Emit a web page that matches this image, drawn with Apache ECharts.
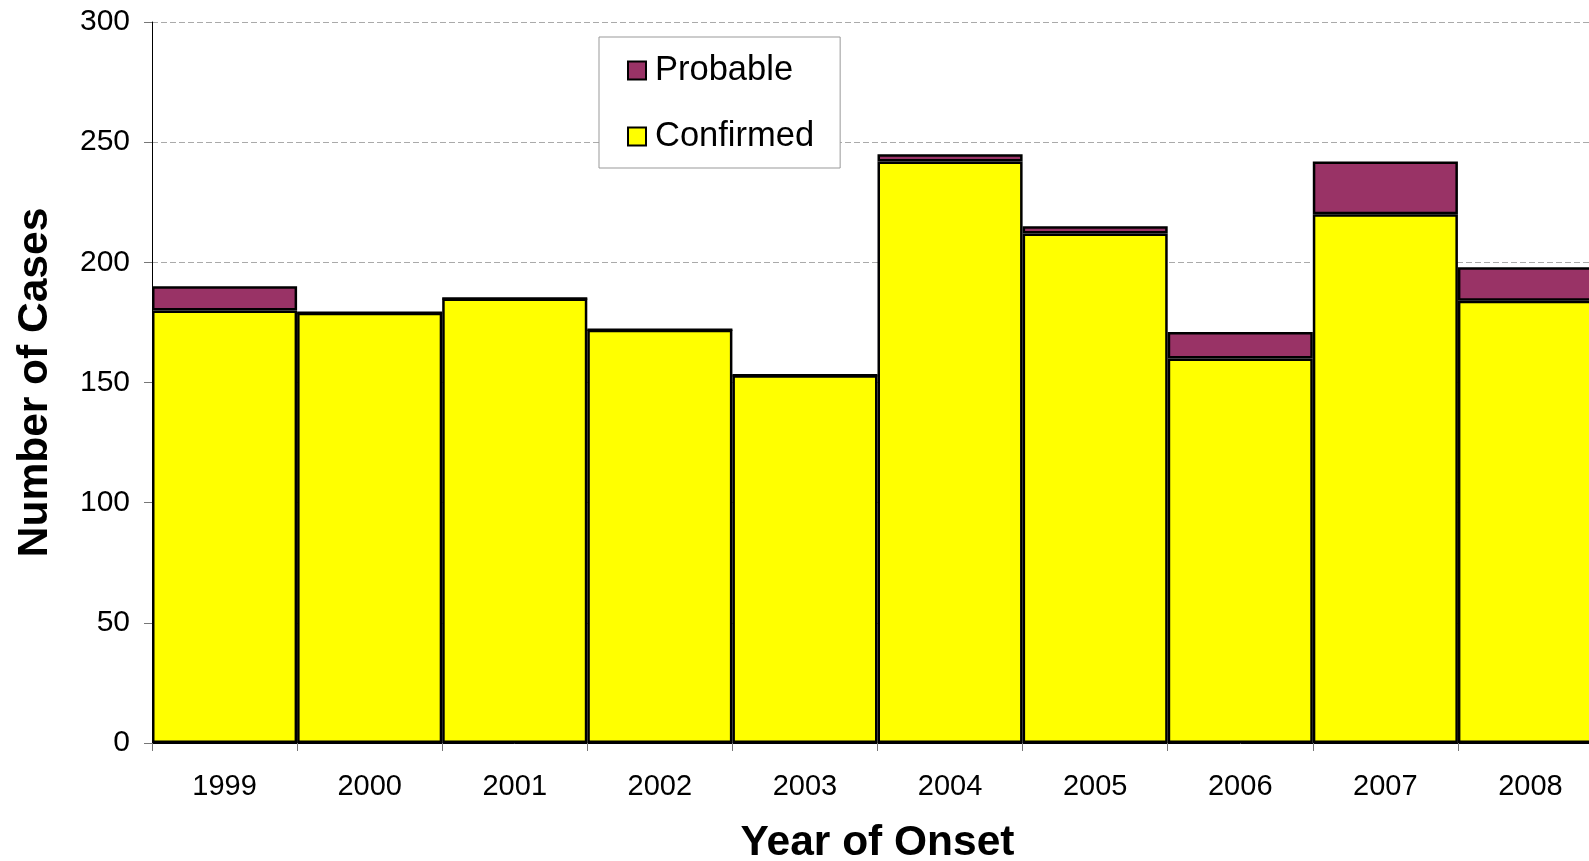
<!DOCTYPE html>
<html>
<head>
<meta charset="utf-8">
<script src="https://cdn.jsdelivr.net/npm/echarts@6/dist/echarts.min.js"></script>
<style>
  html, body { margin: 0; padding: 0; background: #fff; overflow: hidden; }
  #wrap { position: relative; width: 1589px; height: 861px; overflow: hidden; }
  #chart { position: absolute; left: 0; top: 0; width: 1603px; height: 861px; }
</style>
</head>
<body>
<div id="wrap"><div id="chart"></div></div>
<script>
// years of onset
var years = ['1999', '2000', '2001', '2002', '2003', '2004', '2005', '2006', '2007', '2008'];
// cases per year
var confirmed = [180, 179, 185, 172, 153, 242, 212, 160, 220, 184];
var probable = [10, 0, 0, 0, 0, 3, 3, 11, 22, 14];

var chart = echarts.init(document.getElementById('chart'));
var font = '"Liberation Sans", Arial, sans-serif';

// plot runs a little past the right edge of the window, like the original
var option = {
  backgroundColor: '#fff',
  animation: false,
  textStyle: { fontFamily: font, color: '#000' },
  grid: { left: 152, right: 0, top: 22, bottom: 118, containLabel: false, outerBoundsMode: 'none' },
  legend: {
    orient: 'vertical',
    left: 599,
    top: 37,
    data: ['Probable', 'Confirmed'],
    icon: 'rect',
    itemWidth: 18,
    itemHeight: 18,
    itemGap: 31,
    padding: [16, 26, 14, 28],
    borderColor: '#999',
    borderWidth: 1,
    backgroundColor: '#fff',
    textStyle: { fontSize: 34.5, color: '#000', fontFamily: font, lineHeight: 35, padding: [0, 0, 0, 4] }
  },
  xAxis: {
    type: 'category',
    data: years,
    name: 'Year of Onset',
    nameLocation: 'middle',
    nameGap: 79,
    nameTextStyle: { fontSize: 42.5, fontWeight: 'bold', color: '#000', fontFamily: font },
    axisLine: { lineStyle: { color: '#000', width: 1 } },
    axisTick: { show: true, length: 8, lineStyle: { color: '#777' } },
    axisLabel: { fontSize: 29, color: '#000', margin: 29 }
  },
  yAxis: {
    type: 'value',
    min: 0,
    max: 300,
    interval: 50,
    name: 'Number of Cases',
    nameLocation: 'middle',
    nameRotate: 90,
    nameGap: 95,
    nameTextStyle: { fontSize: 42.5, fontWeight: 'bold', color: '#000', fontFamily: font },
    axisLine: { show: true, lineStyle: { color: '#000', width: 1 } },
    axisTick: { show: true, length: 8, lineStyle: { color: '#777' } },
    axisLabel: { fontSize: 30, color: '#000', margin: 22 },
    splitLine: { lineStyle: { color: '#aaa', type: [6, 3], width: 1 } }
  },
  series: [
    {
      name: 'Confirmed',
      type: 'bar',
      stack: 'cases',
      data: confirmed,
      barCategoryGap: '0%',
      itemStyle: { color: '#ffff00', borderColor: '#000', borderWidth: 2.5 }
    },
    {
      name: 'Probable',
      type: 'bar',
      stack: 'cases',
      data: probable,
      barCategoryGap: '0%',
      itemStyle: { color: '#993366', borderColor: '#000', borderWidth: 2.5 }
    }
  ]
};

chart.setOption(option);
</script>
</body>
</html>
